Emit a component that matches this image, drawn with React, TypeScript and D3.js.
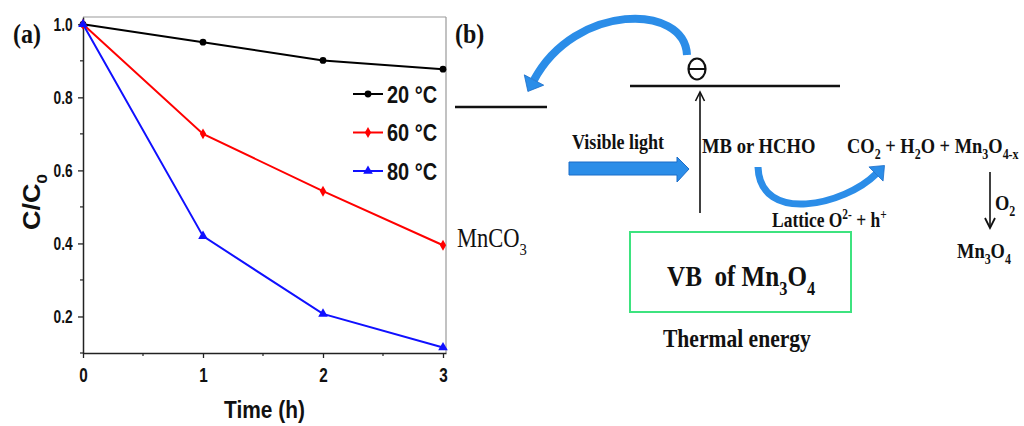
import React, { useEffect, useRef } from 'react';
import * as d3 from 'd3';

const svgWidth = 1024;
const svgHeight = 426;

// data
const times = [0, 1, 2, 3];
const c20 = [1.0, 0.951, 0.901, 0.877];
const c60 = [1.0, 0.7, 0.543, 0.395];
const c80 = [1.0, 0.42, 0.207, 0.115];
const seriesNames = ['20 °C', '60 °C', '80 °C'];
const seriesColors = ['#000000', '#ff0000', '#1010ff'];
const xTicks = [0, 1, 2, 3];
const xMinor = [0.5, 1.5, 2.5];
const yTicks = [0.2, 0.4, 0.6, 0.8, 1.0];
const yMinor = [0.1, 0.3, 0.5, 0.7, 0.9];

type Part = string | [string, 'sub' | 'sup'];

const sans = '"Liberation Sans", Arial, sans-serif';
const serif = '"Liberation Serif", "Times New Roman", serif';

function addText(
  parent: d3.Selection<any, unknown, null, undefined>,
  x: number,
  y: number,
  parts: Part[],
  o: { size: number; weight?: string; family?: string; anchor?: string; sx?: number; sy?: number; rotate?: number }
) {
  const t = parent
    .append('text')
    .attr('transform', `translate(${x},${y})${o.rotate ? ` rotate(${o.rotate})` : ''} scale(${o.sx ?? 0.88},${o.sy ?? 1})`)
    .attr('font-size', o.size)
    .attr('font-family', o.family ?? serif)
    .attr('font-weight', o.weight ?? 'bold')
    .attr('text-anchor', o.anchor ?? 'start')
    .attr('fill', '#111')
    .style('white-space', 'pre');
  let shift = 0;
  parts.forEach((p) => {
    const [s, kind] = typeof p === 'string' ? [p, null] : p;
    const target = kind === 'sub' ? o.size * 0.3 : kind === 'sup' ? -o.size * 0.38 : 0;
    t.append('tspan')
      .attr('dy', target - shift)
      .attr('font-size', kind ? o.size * 0.65 : o.size)
      .text(s);
    shift = target;
  });
  return t;
}

function arrowHead(
  parent: d3.Selection<any, unknown, null, undefined>,
  bx: number,
  by: number,
  dx: number,
  dy: number,
  len: number,
  halfW: number,
  fill: string
) {
  const n = Math.hypot(dx, dy);
  const ux = dx / n;
  const uy = dy / n;
  const pts = [
    [bx + ux * len, by + uy * len],
    [bx - uy * halfW, by + ux * halfW],
    [bx + uy * halfW, by - ux * halfW],
  ];
  parent.append('polygon').attr('points', pts.map((p) => p.join(',')).join(' ')).attr('fill', fill).attr('stroke', '#1a6cc8').attr('stroke-width', 0.8);
}

const App: React.FC = () => {
  const svgRef = useRef<SVGSVGElement | null>(null);

  useEffect(() => {
    document.body.style.margin = '0';
    const svg = d3.select(svgRef.current);
    svg.selectAll('*').remove();

    const x = d3.scaleLinear().domain([0, 3.025]).range([83, 446]);
    const y = d3.scaleLinear().domain([0.1, 1.02]).range([353, 17]);

    const g = svg.append('g');

    // frame top / right
    g.append('line').attr('x1', 83).attr('x2', 446).attr('y1', 17).attr('y2', 17).attr('stroke', '#999').attr('stroke-width', 1.2);
    g.append('line').attr('x1', 446).attr('x2', 446).attr('y1', 17).attr('y2', 353).attr('stroke', '#999').attr('stroke-width', 1.2);

    // axes
    const yAxis = g
      .append('g')
      .attr('transform', 'translate(83,0)')
      .call(d3.axisLeft(y).tickValues(yTicks).tickSize(5).tickSizeOuter(0).tickPadding(7).tickFormat(d3.format('.1f')));
    yAxis.selectAll('text')
      .attr('font-size', 16)
      .attr('font-family', sans)
      .attr('font-weight', 'bold')
      .attr('fill', '#111')
      .attr('dy', '0.32em')
      .attr('transform', 'scale(0.86,1.12)');
    const xAxis = g
      .append('g')
      .attr('transform', 'translate(0,353)')
      .call(d3.axisBottom(x).tickValues(xTicks).tickSize(5).tickSizeOuter(0).tickPadding(8).tickFormat(d3.format('d')));
    xAxis.selectAll('text')
      .attr('font-size', 17)
      .attr('font-family', sans)
      .attr('font-weight', 'bold')
      .attr('fill', '#111')
      .attr('transform', 'scale(0.9,1.15)');
    [yAxis, xAxis].forEach((a) => {
      a.select('.domain').attr('stroke', '#222').attr('stroke-width', 1.5);
      a.selectAll('.tick line').attr('stroke', '#222').attr('stroke-width', 1.3);
    });
    g.selectAll('.yminor')
      .data(yMinor)
      .join('line')
      .attr('x1', 80)
      .attr('x2', 83)
      .attr('y1', (d) => y(d))
      .attr('y2', (d) => y(d))
      .attr('stroke', '#222')
      .attr('stroke-width', 1.2);
    g.selectAll('.xminor')
      .data(xMinor)
      .join('line')
      .attr('x1', (d) => x(d))
      .attr('x2', (d) => x(d))
      .attr('y1', 353)
      .attr('y2', 356)
      .attr('stroke', '#222')
      .attr('stroke-width', 1.2);

    // series
    const series = [c20, c60, c80];
    const symbols = [d3.symbolCircle, d3.symbolDiamond, d3.symbolTriangle];
    const symSizes = [36, 34, 40];
    const line = d3
      .line<number>()
      .x((_, i) => x(times[i]))
      .y((d) => y(d));
    series.forEach((vals, k) => {
      g.append('path').datum(vals).attr('d', line).attr('fill', 'none').attr('stroke', seriesColors[k]).attr('stroke-width', 2);
      g.selectAll(`.m${k}`)
        .data(vals)
        .join('path')
        .attr('transform', (d, i) => `translate(${x(times[i])},${y(d)})`)
        .attr('d', d3.symbol().type(symbols[k]).size(symSizes[k]))
        .attr('fill', seriesColors[k]);
    });

    // legend
    seriesNames.forEach((name, k) => {
      const ly = 94 + k * 38.5;
      g.append('line').attr('x1', 353).attr('x2', 383).attr('y1', ly).attr('y2', ly).attr('stroke', seriesColors[k]).attr('stroke-width', 2);
      g.append('path')
        .attr('transform', `translate(368,${ly})`)
        .attr('d', d3.symbol().type(symbols[k]).size(symSizes[k]))
        .attr('fill', seriesColors[k]);
      addText(g, 387, ly + 8.5, [name], { size: 21, family: sans, sx: 0.95, sy: 1.12 });
    });

    // axis titles
    addText(g, 264.5, 418, ['Time (h)'], { size: 22, family: sans, anchor: 'middle', sx: 0.95, sy: 1.12 });
    addText(g, 40, 202, ['C/C', ['0', 'sub']], { size: 22, family: sans, anchor: 'middle', rotate: -90, sx: 1.22, sy: 1.05 });
    addText(g, 13, 43, ['(a)'], { size: 24, sx: 1, sy: 1.12 });

    // panel (b)
    const b = svg.append('g');
    addText(b, 455, 43, ['(b)'], { size: 24, sx: 1, sy: 1.12 });

    b.append('line').attr('x1', 455).attr('x2', 547).attr('y1', 107).attr('y2', 107).attr('stroke', '#111').attr('stroke-width', 2.5);
    b.append('line').attr('x1', 630).attr('x2', 840).attr('y1', 86).attr('y2', 86).attr('stroke', '#111').attr('stroke-width', 2.5);

    // electron
    b.append('ellipse').attr('cx', 697).attr('cy', 69).attr('rx', 8.5).attr('ry', 10.5).attr('fill', 'none').attr('stroke', '#111').attr('stroke-width', 2.2);
    b.append('line').attr('x1', 688.5).attr('x2', 705.5).attr('y1', 69).attr('y2', 69).attr('stroke', '#111').attr('stroke-width', 2);

    // thin vertical arrows
    b.append('line').attr('x1', 700).attr('x2', 700).attr('y1', 213).attr('y2', 93).attr('stroke', '#111').attr('stroke-width', 1.6);
    b.append('path').attr('d', 'M695.5,101 L700,92 L704.5,101').attr('fill', 'none').attr('stroke', '#111').attr('stroke-width', 1.6);
    b.append('line').attr('x1', 990).attr('x2', 990).attr('y1', 172).attr('y2', 226).attr('stroke', '#111').attr('stroke-width', 1.6);
    b.append('path').attr('d', 'M985,218 L990,228 L995,218').attr('fill', 'none').attr('stroke', '#111').attr('stroke-width', 1.8);

    // blue arrows
    const blue = '#2b8de8';
    b.append('path').attr('d', 'M687,55 C685,3 575,3 534,80').attr('fill', 'none').attr('stroke', blue).attr('stroke-width', 8);
    arrowHead(b, 534, 80, -41, 77, 13, 11, blue);
    b.append('path')
      .attr('d', 'M569,162 L677,162 L677,157 L689,169 L677,182 L677,175 L569,175 Z')
      .attr('fill', blue)
      .attr('stroke', '#1a6cc8')
      .attr('stroke-width', 1);
    b.append('path').attr('d', 'M758,167 C760,225 845,205 876,174').attr('fill', 'none').attr('stroke', blue).attr('stroke-width', 7);
    arrowHead(b, 876, 174, 31, -31, 12, 10, blue);

    // box
    b.append('rect').attr('x', 630).attr('y', 232).attr('width', 221).attr('height', 80).attr('fill', 'none').attr('stroke', '#3de37f').attr('stroke-width', 2);

    // labels
    addText(b, 572, 149, ['Visible light'], { size: 19, sx: 0.95, sy: 1.12 });
    addText(b, 702, 153, ['MB or HCHO'], { size: 19, sx: 0.98, sy: 1.12 });
    addText(b, 847, 153, ['CO', ['2', 'sub'], ' + H', ['2', 'sub'], 'O + Mn', ['3', 'sub'], 'O', ['4-x', 'sub']], { size: 19, sx: 0.97, sy: 1.12 });
    addText(b, 772, 227, ['Lattice O', ['2-', 'sup'], ' + h', ['+', 'sup']], { size: 19, sx: 0.92, sy: 1.12 });
    addText(b, 995, 210, ['O', ['2', 'sub']], { size: 19, sx: 0.97, sy: 1.12 });
    addText(b, 957, 258, ['Mn', ['3', 'sub'], 'O', ['4', 'sub']], { size: 19, sx: 0.97, sy: 1.12 });
    addText(b, 457, 247, ['MnCO', ['3', 'sub']], { size: 23, weight: 'normal', sx: 0.98, sy: 1.15 });
    addText(b, 667, 286, ['VB  of Mn', ['3', 'sub'], 'O', ['4', 'sub']], { size: 27, weight: 'bold', sx: 0.93, sy: 1.12 });
    addText(b, 663, 347, ['Thermal energy'], { size: 22, sx: 0.98, sy: 1.12 });
  }, []);

  return <svg width={svgWidth} height={svgHeight} ref={svgRef} style={{ display: 'block', background: '#fff' }}></svg>;
};

export default App;
